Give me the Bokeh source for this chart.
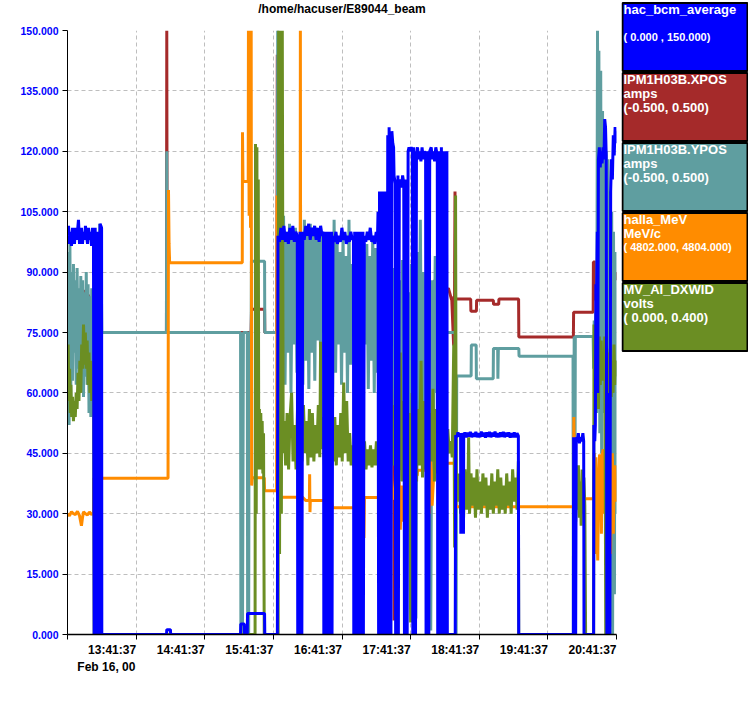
from bokeh.plotting import figure
from bokeh.models import Range1d, FixedTicker, LinearAxis, NumeralTickFormatter
from bokeh.layouts import row, column
from bokeh.embed import file_html
from bokeh.resources import INLINE
from bokeh.core.properties import value

# ---------------- data (time in minutes after 12:41:37, Feb 16; values on the 0-150 display scale) -------------
title_text = "/home/hacuser/E89044_beam"
x_tick_minutes = [60, 120, 180, 240, 300, 360, 420, 480]
x_tick_labels = ["13:41:37", "14:41:37", "15:41:37", "16:41:37", "17:41:37", "18:41:37", "19:41:37", "20:41:37"]
date_label = "Feb 16, 00"
y_ticks = [0, 15, 30, 45, 60, 75, 90, 105, 120, 135, 150]

series_names = ["hac_bcm_average", "IPM1H03B.XPOS", "IPM1H03B.YPOS", "halla_MeV", "MV_AI_DXWID"]
series_units = ["", "amps", "amps", "MeV/c", "volts"]
series_ranges = ["( 0.000  ,  150.000)", "(-0.500,  0.500)", "(-0.500,  0.500)",
                 "( 4802.000,  4804.000)", "( 0.000,  0.400)"]
series_colors = ["#0000ff", "#a52a2a", "#5f9ea0", "#ff8c00", "#6b8e23"]

bcm = [(0.0, 99), (0.9, 101.5), (1.7, 97), (2.6, 100), (3.5, 96.5), (4.4, 101), (5.2, 99), (6.1, 97), (7.0, 101),
       (7.9, 98), (8.7, 100), (9.6, 103), (10.5, 97), (11.4, 99), (12.2, 101), (13.1, 97), (14.0, 100), (14.9, 98),
       (15.7, 101.5), (16.6, 99), (17.5, 97), (18.4, 101), (19.2, 98), (20.1, 100), (21.0, 96.5), (21.9, 101),
       (22.7, 99), (23.3, 0), (24.2, 101), (25.0, 0), (25.9, 100), (26.3, 0), (28.2, 0), (28.5, 102), (29.8, 101),
       (30.0, 0), (86.6, 0), (86.8, 1.2), (90.0, 1.2), (90.2, 0), (151.3, 0), (151.5, 2.6), (154.6, 2.6), (154.8, 0),
       (157.2, 0), (157.4, 5.2), (172.3, 5.2), (172.5, 0), (183.5, 0), (184.0, 99),
       (185.3, 97.5), (186.6, 101), (187.9, 98), (189.2, 101.5), (190.5, 97.5), (191.8, 100), (193.1, 97),
       (194.4, 101), (195.7, 98), (197.0, 101.5), (198.3, 97.5), (199.6, 100), (200.9, 99),
       (201.3, 0), (202.1, 99), (202.5, 0), (203.3, 100), (203.7, 0), (204.5, 99), (204.9, 0), (205.7, 100),
       (207.0, 98), (208.3, 101.5), (209.6, 99), (210.9, 102), (212.2, 98), (213.5, 101), (214.8, 99), (216.1, 101.5),
       (217.4, 98), (218.7, 101), (220.0, 97.5), (221.3, 101.5), (222.6, 99), (223.8, 100),
       (224.1, 0), (224.9, 99), (225.3, 0), (226.1, 100), (226.5, 0), (227.3, 98), (227.7, 0), (228.5, 100),
       (228.9, 0), (229.7, 99), (230.1, 0), (230.9, 100), (231.3, 0), (232.1, 99),
       (233.4, 97.5), (234.7, 100), (236.0, 97), (237.3, 99), (238.6, 97.5), (239.9, 101), (241.2, 98), (242.5, 100),
       (243.8, 97), (245.1, 99), (246.4, 97.5), (247.7, 100), (249.0, 98), (250.0, 99),
       (250.3, 0), (251.1, 100), (251.5, 0), (252.3, 99), (252.7, 0), (253.5, 100), (253.9, 0), (254.7, 98),
       (255.1, 0), (255.9, 100), (256.3, 0), (257.1, 99), (257.5, 0), (258.3, 100), (258.7, 0), (259.5, 99),
       (260.8, 97.5), (262.1, 100), (263.4, 98), (264.7, 101), (266.0, 97.5), (267.3, 99), (268.6, 97), (269.9, 100),
       (271.0, 98),
       (271.5, 105), (272.0, 0), (272.8, 110), (273.2, 0), (274.0, 109), (274.4, 0), (275.2, 110), (275.6, 0),
       (276.4, 108), (276.8, 0), (277.6, 110), (278.0, 0), (278.8, 109), (279.3, 0), (280.0, 124), (280.4, 0),
       (281.2, 126), (281.6, 0), (282.4, 123), (282.8, 0), (283.6, 125), (284.4, 122), (285.1, 121), (285.5, 114),
       (286.5, 112), (286.9, 0), (287.7, 113), (288.1, 0), (288.9, 114), (289.3, 0), (290.1, 112), (291.0, 113),
       (292.0, 111), (293.0, 114), (294.0, 112), (294.6, 0), (295.4, 113), (295.8, 0), (296.6, 112), (297.0, 0),
       (297.8, 120), (298.6, 121), (299.5, 120), (300.5, 121), (301.5, 120), (301.9, 0), (302.7, 121), (303.1, 0),
       (303.9, 120), (304.3, 0), (305.1, 119), (306.0, 121), (307.0, 118), (308.0, 120), (309.0, 117.5),
       (310.0, 121), (311.0, 118), (312.0, 120), (313.1, 119), (313.5, 0), (314.3, 120), (314.7, 0), (315.5, 118),
       (315.9, 0), (316.7, 120), (318.0, 121), (319.0, 118), (320.0, 120), (321.0, 117.5), (322.0, 121),
       (323.3, 119), (323.7, 0), (324.5, 120), (324.9, 0), (325.7, 118), (326.1, 0), (326.9, 121), (327.3, 0),
       (328.1, 119), (328.5, 0), (329.3, 120), (329.7, 0), (330.5, 118), (330.9, 0), (331.7, 120), (332.1, 0),
       (339.0, 0), (339.4, 49.5), (340.4, 49.0), (341.4, 50.2), (342.4, 49.2), (343.4, 50.0), (343.7, 49.4),
       (343.9, 25), (344.1, 49.5), (345.0, 49.0), (346.0, 50.0), (346.2, 25), (346.4, 49.3), (347.4, 50.2),
       (348.6, 49.0), (349.8, 50.1), (351.0, 49.2), (352.2, 50.3), (353.4, 49.0), (354.6, 50.0), (355.8, 49.1),
       (357.0, 50.3), (358.2, 49.0), (359.4, 50.0), (360.6, 49.0), (361.8, 50.4), (363.0, 49.2), (364.2, 50.1),
       (365.4, 48.9), (366.6, 50.2), (367.8, 49.1), (369.0, 50.3), (370.2, 49.0), (371.4, 50.1), (372.6, 49.2),
       (373.8, 50.4), (375.0, 49.0), (376.2, 50.0), (377.4, 49.0), (378.6, 50.2), (379.8, 49.1), (381.0, 50.3),
       (382.2, 49.0), (383.4, 50.1), (384.6, 49.2), (385.8, 50.2), (387.0, 48.9), (388.2, 50.0), (389.4, 49.0),
       (390.6, 50.2), (391.8, 49.0), (393.0, 50.0), (394.2, 49.3), (394.5, 0), (442.3, 0),
       (442.5, 49), (443.0, 0), (443.6, 48), (444.3, 0), (444.8, 49), (445.6, 48), (446.6, 50), (447.6, 47.5),
       (448.6, 49), (449.6, 48), (450.6, 50), (451.3, 48), (451.6, 0), (460.0, 0), (460.2, 52), (461.0, 48),
       (461.5, 52), (462.0, 87), (462.6, 84), (463.2, 100), (463.6, 60), (464.2, 118), (465.0, 121), (465.8, 116),
       (466.6, 120), (467.4, 117), (468.2, 121), (469.0, 118), (469.7, 128), (470.4, 126), (471.0, 119),
       (471.6, 0), (472.4, 60), (473.0, 0), (474.2, 0), (474.9, 110), (475.6, 118), (476.4, 113), (477.2, 124),
       (478.0, 119), (478.8, 126), (479.5, 122), (480.2, 125)]

xpos = [(0.0, 81), (2.6, 82.6), (4.4, 82), (6.0, 80.5), (8.0, 81), (11.4, 80), (13.0, 79.8), (14.0, 85.5),
        (15.5, 84.3), (18.4, 84.3), (20.1, 80), (22.7, 79.9), (28.9, 80), (29.7, 75), (86.5, 75), (86.8, 150),
        (87.2, 75), (160.5, 75), (160.9, 80.8), (172.3, 80.8), (172.5, 75), (183.0, 75), (183.4, 144), (183.8, 91),
        (185.0, 84.8), (195.0, 84.8), (195.2, 82), (201.0, 82), (201.2, 86), (205.0, 86), (205.2, 80.5),
        (208.0, 80.5), (208.2, 84), (214.0, 84), (214.2, 86.8), (214.6, 78), (215.0, 82), (236.7, 82),
        (236.9, 81.5), (249.8, 81.5), (250.0, 82), (262.0, 82), (262.2, 84), (266.2, 84), (266.5, 88.8),
        (267.5, 78.8), (268.5, 88), (269.5, 80), (270.6, 84), (273.7, 84), (274.0, 93.7), (274.8, 79.8),
        (275.6, 90), (276.4, 82), (277.2, 86), (278.0, 79), (279.9, 85), (280.3, 106), (281.0, 84), (282.0, 80),
        (283.0, 86), (284.0, 79), (285.3, 84), (285.5, 3.5), (285.8, 82), (287.0, 86), (288.6, 80), (290.0, 85),
        (292.0, 81), (294.0, 87), (296.0, 79), (298.0, 84), (300.0, 82), (302.0, 86), (304.4, 80), (304.6, 67),
        (305.5, 83), (307.0, 81), (308.7, 86), (313.0, 86), (314.6, 70), (315.5, 87), (317.5, 81), (319.0, 85),
        (321.0, 88), (322.0, 80), (324.0, 86), (326.0, 83), (328.0, 87), (330.6, 85), (333.0, 86), (336.0, 83),
        (337.6, 71.8), (338.0, 84), (338.4, 84), (338.8, 110), (339.3, 83.3), (352.5, 83.3), (352.7, 80.3),
        (357.5, 80.3), (357.7, 83.0), (372.3, 83.0), (372.5, 82.0), (377.0, 82.0), (377.2, 83.3), (394.4, 83.3),
        (394.6, 73.9), (442.3, 73.9), (442.5, 80.0), (459.6, 80), (459.8, 92.5), (461.5, 92.5), (461.7, 83),
        (463.5, 84), (464.4, 85), (466.0, 84), (468.0, 84.5), (468.2, 89), (469.2, 89), (469.4, 84), (471.5, 84),
        (472.0, 96), (472.8, 60), (473.5, 95), (474.3, 45), (475.1, 93), (475.9, 70), (476.7, 97), (477.5, 85),
        (478.5, 90), (479.5, 88), (480.2, 90)]

ypos = [(0.0, 60), (0.7, 95), (1.4, 52), (2.1, 97), (2.8, 58), (3.6, 90), (4.4, 63), (5.2, 92), (6.0, 70),
        (6.8, 88), (7.6, 62), (8.4, 91), (9.2, 66), (10.0, 86), (10.8, 60), (11.6, 89), (12.4, 68), (13.2, 88),
        (14.0, 59), (14.8, 85), (15.6, 64), (16.4, 90), (17.2, 62), (18.0, 87), (18.8, 55), (19.6, 84), (20.4, 54),
        (21.2, 86), (22.0, 58), (22.8, 82), (23.6, 60), (24.6, 75), (26.0, 70), (28.2, 102), (28.8, 56),
        (29.5, 90), (30.0, 75), (86.5, 75), (86.8, 120), (87.2, 75), (151.3, 75), (151.6, 0), (152.6, 75),
        (153.0, 0), (153.8, 75), (157.2, 75), (157.5, 0), (158.4, 0), (158.8, 75), (160.6, 75), (160.8, 92.7),
        (172.3, 92.7), (172.5, 75), (183.4, 75), (183.8, 150), (184.3, 100), (185.0, 64),
        (186.3, 103), (187.6, 66), (188.9, 104), (190.2, 62), (191.5, 100), (192.8, 70), (194.1, 102), (195.4, 60),
        (196.7, 98), (198.0, 72), (199.3, 101), (200.6, 65), (201.9, 99), (203.2, 74), (204.5, 97), (205.8, 62),
        (207.1, 103), (208.4, 68), (209.7, 100), (211.0, 61), (212.3, 102), (213.6, 70), (214.9, 99), (216.2, 63),
        (217.5, 101), (218.8, 73), (220.1, 98), (221.4, 66), (222.7, 100), (224.0, 75), (225.3, 97), (226.6, 60),
        (227.9, 99), (229.2, 68), (230.5, 96), (231.8, 59), (233.1, 103), (234.4, 65), (235.7, 98), (237.0, 72),
        (238.3, 95), (239.6, 62), (240.9, 99), (242.2, 70), (243.5, 94), (244.8, 60), (246.1, 103), (247.4, 67),
        (248.7, 92), (250.0, 74), (251.3, 96), (252.6, 63), (253.9, 93), (255.2, 70), (256.5, 98), (257.8, 60),
        (259.1, 95), (260.4, 72), (261.7, 97), (263.0, 61), (264.3, 94), (265.6, 68), (266.9, 99), (268.2, 60),
        (269.5, 96), (270.8, 65), (272.1, 103), (273.4, 75), (274.7, 97), (276.0, 58), (277.3, 92), (278.6, 48),
        (279.9, 108), (281.2, 55), (282.5, 95), (283.8, 45), (285.1, 91), (286.4, 57), (287.7, 96), (289.0, 42),
        (290.3, 88), (291.6, 54), (292.9, 93), (294.2, 50), (295.5, 90), (296.8, 58), (298.1, 85), (299.4, 46),
        (300.7, 92), (302.0, 55), (303.3, 89), (304.6, 4), (305.9, 95), (307.2, 50), (308.5, 103), (309.8, 48),
        (311.1, 90), (312.4, 58), (313.7, 86), (315.0, 2), (316.3, 92), (317.6, 1), (318.9, 88), (320.2, 55),
        (321.5, 94), (322.8, 60), (324.1, 85), (325.4, 51), (326.7, 90), (328.0, 62), (329.3, 88), (330.6, 75),
        (339.0, 75), (339.3, 0), (339.8, 0), (340.3, 64.2), (352.9, 64.2), (353.1, 71.9), (357.3, 71.9),
        (357.5, 63.5), (372.2, 63.5), (372.4, 71.0), (376.1, 71.0), (376.3, 63.5), (376.7, 71.0), (394.6, 71.0),
        (394.8, 69.1), (442.0, 69.1), (442.3, 0), (443.0, 74), (443.4, 0), (444.0, 74), (459.6, 74),
        (460.0, 66), (460.5, 78), (461.0, 62), (461.8, 80), (462.6, 55), (463.4, 150), (464.0, 60), (464.6, 145),
        (465.4, 50), (466.2, 140), (467.0, 45), (467.8, 130), (468.6, 55), (469.4, 128), (470.2, 40), (471.0, 120),
        (471.8, 5), (472.6, 118), (473.4, 0), (474.2, 110), (475.0, 2), (475.8, 105), (476.6, 0), (477.4, 100),
        (478.2, 10), (479.0, 95), (479.8, 30), (480.2, 60)]

mev = [(0.0, 30), (1.7, 29.5), (3.5, 30.5), (5.2, 30), (7.0, 29.8), (8.7, 30.6), (10.5, 29.5), (12.2, 27),
       (13.1, 29), (14.0, 30.5), (15.7, 30), (17.5, 29.7), (19.2, 30.4), (21.0, 29.8), (22.7, 30.2), (23.0, 38.8),
       (87.9, 38.8), (88.3, 110.4), (88.8, 97), (89.3, 92.3), (152.8, 92.3), (153.0, 124.7), (153.4, 112.5),
       (158.0, 112.5), (158.2, 150), (158.8, 104), (159.4, 150), (160.0, 101), (160.6, 150), (161.0, 37),
       (161.5, 38.9), (172.0, 38.9), (172.3, 35.7), (182.8, 35.7), (183.2, 109), (183.6, 35), (184.5, 34.5),
       (186.3, 34.1), (203.3, 34.1), (203.6, 150), (204.0, 34.1), (205.5, 34.1), (208.2, 33.3), (211.5, 33.3),
       (211.7, 39.8), (212.0, 30.4), (212.3, 33.3), (230.0, 33.3), (230.3, 27.5), (230.8, 33), (231.8, 31.5),
       (250.1, 31.5), (258.9, 34), (259.2, 24), (259.6, 34), (272.0, 34), (275.2, 35), (275.6, 53), (276.6, 27.5),
       (277.6, 50), (279.5, 35), (282.5, 50), (283.5, 38), (285.1, 33.8), (289.5, 33.8), (290.0, 38), (291.0, 26),
       (292.0, 37), (293.0, 28), (293.9, 33.8), (298.5, 39.5), (305.8, 39.5), (306.0, 40.8), (314.6, 40.8),
       (315.2, 46.5), (316.4, 30), (317.6, 45), (318.8, 32), (320.4, 41), (324.7, 43.3), (332.1, 42.5),
       (339.3, 42.5), (339.6, 31.7), (442.5, 31.7), (442.7, 54), (443.5, 33.7), (460.0, 33.7), (460.5, 45),
       (461.2, 20), (462.0, 44), (462.8, 30), (463.6, 18.4), (464.4, 38), (465.2, 44.7), (466.0, 44), (466.8, 25),
       (467.6, 44.7), (468.4, 46), (469.2, 30), (470.0, 44), (470.8, 22), (471.6, 40), (472.4, 45), (473.2, 28),
       (474.0, 43), (474.8, 20), (475.6, 35), (476.4, 45), (477.2, 25), (478.0, 40), (478.8, 42), (479.6, 33),
       (480.2, 38)]

dxwid = [(0.0, 63), (0.6, 72), (1.2, 58), (1.8, 66), (2.4, 55), (3.0, 62), (3.6, 54), (4.4, 59), (5.2, 53),
         (6.0, 58), (6.8, 54), (7.6, 60), (8.4, 56), (9.2, 65), (10.0, 58), (10.8, 68), (11.6, 60), (12.4, 72),
         (13.2, 66), (14.0, 77), (14.8, 67), (15.6, 75), (16.4, 66), (17.2, 73), (18.0, 62), (18.8, 70), (19.6, 60),
         (20.4, 68), (21.2, 58), (22.0, 64), (22.8, 60), (23.3, 0), (26.2, 0), (26.6, 68), (27.4, 56), (28.2, 70),
         (29.0, 58), (29.7, 0), (164.0, 0), (164.4, 121.8), (165.0, 30), (165.6, 121), (166.2, 41), (166.8, 113),
         (167.2, 44), (167.8, 56), (168.4, 41), (169.0, 55), (169.6, 42), (170.2, 53), (170.8, 40), (171.4, 50),
         (172.0, 0), (184.2, 0), (184.6, 150), (185.4, 20), (186.2, 150), (187.0, 30), (187.8, 150), (188.6, 45),
         (189.4, 53), (190.7, 42), (192.0, 55), (193.3, 41), (194.6, 54), (195.9, 60), (197.2, 43), (198.5, 52),
         (199.8, 41), (201.1, 56), (202.4, 44), (203.7, 50), (205.0, 43), (206.3, 57), (207.6, 45), (208.9, 53),
         (210.2, 42), (211.5, 56), (212.8, 44), (214.1, 55), (215.4, 43), (216.7, 52), (218.0, 45), (219.3, 57),
         (220.6, 44), (221.3, 72.7), (222.0, 46), (223.3, 54), (224.6, 42), (225.9, 53), (227.2, 44), (228.5, 55),
         (229.8, 42), (231.1, 51), (232.4, 43), (233.7, 54), (235.0, 42), (236.3, 52), (237.6, 44), (238.9, 55),
         (240.2, 43), (241.5, 62.6), (242.8, 45), (244.1, 58), (245.4, 43), (246.7, 50), (248.0, 42), (249.3, 47),
         (250.6, 41.5), (251.9, 46), (253.2, 42), (254.5, 47), (255.8, 41), (257.1, 46), (258.4, 42), (259.7, 48),
         (261.0, 41), (262.3, 46), (263.6, 42), (264.9, 47), (266.2, 41.5), (267.5, 46), (268.8, 42), (270.1, 48),
         (271.4, 42), (272.7, 46), (274.0, 55), (275.3, 38), (276.6, 66), (277.9, 40), (279.2, 5), (280.5, 60),
         (281.8, 37), (283.1, 68), (284.4, 42), (285.7, 57), (287.0, 36), (288.3, 62), (289.6, 41), (290.9, 70),
         (292.2, 38), (293.5, 58), (294.8, 40), (296.1, 65), (297.4, 37), (298.7, 55), (300.0, 3), (301.3, 60),
         (302.6, 40), (303.9, 66), (305.2, 38), (306.5, 56), (307.8, 42), (309.1, 68), (310.4, 39), (311.7, 58),
         (313.0, 41), (314.3, 64), (315.6, 37), (316.9, 55), (318.2, 43), (319.5, 61), (320.8, 38), (322.1, 56),
         (323.4, 40), (324.7, 59), (326.0, 42), (327.3, 52), (328.6, 44), (329.9, 55), (331.2, 42), (332.5, 51),
         (333.8, 45), (335.1, 48), (336.4, 44), (337.7, 72), (338.5, 21.6), (339.3, 109), (339.8, 40),
         (341.1, 33), (342.4, 40), (343.7, 30), (345.0, 38), (346.3, 29), (347.6, 41), (348.9, 31), (350.2, 37),
         (350.7, 49), (351.5, 30), (352.8, 40), (354.1, 32), (355.4, 39), (356.7, 29), (358.0, 41), (359.3, 31),
         (360.6, 38), (361.9, 30), (363.2, 40), (364.5, 32), (365.8, 39), (367.1, 29), (368.4, 37), (369.7, 31),
         (371.0, 40), (372.3, 30), (373.6, 38), (374.9, 32), (376.2, 41), (377.5, 30), (378.8, 39), (380.1, 31),
         (381.4, 37), (382.7, 30), (384.0, 40), (385.3, 32), (386.6, 38), (387.9, 30), (389.2, 41), (390.5, 33),
         (391.8, 39), (393.1, 31), (394.2, 43), (394.5, 0), (442.4, 0), (442.8, 30), (443.5, 43), (444.3, 28),
         (445.1, 40), (445.9, 31), (446.7, 42), (447.5, 29), (448.3, 38), (449.1, 27), (449.9, 41), (450.7, 30),
         (451.5, 39), (452.3, 32), (453.0, 0), (460.0, 0), (460.3, 77), (461.0, 55), (461.8, 75), (462.6, 58),
         (463.4, 72), (464.2, 56), (465.0, 74), (465.8, 62), (466.6, 73), (467.4, 63), (468.2, 70), (469.0, 64),
         (469.8, 74), (470.6, 0), (471.4, 71), (472.2, 58), (473.0, 70), (473.8, 60), (474.6, 71), (475.4, 59),
         (476.2, 68), (477.0, 60), (477.8, 72), (478.6, 62), (479.4, 68), (480.2, 64)]

FONT = "Liberation Sans"
X0, X1, Y0, Y1 = 0, 480, 0, 150
PW, TH, PH = 621, 24, 676          # main column width, title strip height, plot height

# ---------------- title strip (same horizontal frame as the plot, so the title is centred over it) -------------
tfig = figure(width=PW, height=TH, x_range=Range1d(X0, X1), y_range=Range1d(TH, 0),
              output_backend="svg", toolbar_location=None, x_axis_type=None, y_axis_type=None,
              min_border_left=67, min_border_right=5, min_border_top=0, min_border_bottom=0)
tfig.frame_align = False
tfig.outline_line_color = None
tfig.background_fill_color = "white"
tfig.border_fill_color = "white"
tfig.text(x=[(X0 + X1) / 2], y=[8], text=[title_text], text_font=value(FONT), text_font_style="bold",
          text_font_size="12px", text_color="black", text_align="center", text_baseline="middle")

# ---------------- main plot -------------
p = figure(width=PW, height=PH, x_range=Range1d(X0, X1), y_range=Range1d(Y0, Y1),
           output_backend="svg", toolbar_location=None,
           min_border_left=67, min_border_right=5, min_border_top=6, min_border_bottom=66)
p.frame_align = False
p.outline_line_color = None
p.background_fill_color = "white"
p.border_fill_color = "white"

grid_minutes = [0] + x_tick_minutes
p.xgrid.ticker = FixedTicker(ticks=grid_minutes)
p.ygrid.ticker = FixedTicker(ticks=y_ticks)
for g in (p.xgrid, p.ygrid):
    g.grid_line_color = "#bebebe"
    g.grid_line_dash = "4 3"
    g.grid_line_width = 1

# y axis
ya = p.yaxis[0]
ya.ticker = FixedTicker(ticks=y_ticks)
ya.formatter = NumeralTickFormatter(format="0.000")
ya.major_label_text_color = "#0000ff"
ya.major_label_text_font = FONT
ya.major_label_text_font_style = "bold"
ya.major_label_text_font_size = "10.5px"
ya.major_tick_out = 5
ya.major_tick_in = 0
ya.minor_tick_line_color = None
ya.major_label_standoff = 4
ya.axis_line_color = "black"
ya.major_tick_line_color = "black"

# x axis: labels right-aligned to the hour ticks (ticks drawn as minor ticks at the hours)
label_shift = 21
lab_ticks = [m - label_shift for m in x_tick_minutes]
xa = p.xaxis[0]
xa.ticker = FixedTicker(ticks=lab_ticks, minor_ticks=grid_minutes)
xa.major_label_overrides = {t: s for t, s in zip(lab_ticks, x_tick_labels)}
xa.major_tick_line_color = None
xa.major_tick_out = 0
xa.major_tick_in = 0
xa.minor_tick_line_color = "black"
xa.minor_tick_out = 5
xa.minor_tick_in = 0
xa.major_label_standoff = 3
xa.major_label_text_font = FONT
xa.major_label_text_font_style = "bold"
xa.major_label_text_font_size = "12px"
xa.major_label_text_color = "black"
xa.axis_line_color = "black"
xa.axis_line_width = 1.5

date_tick = x_tick_minutes[0] - 26
date_axis = LinearAxis(ticker=FixedTicker(ticks=[date_tick]),
                       major_label_overrides={date_tick: date_label},
                       axis_line_color=None, major_tick_line_color=None, minor_tick_line_color=None,
                       major_tick_out=0, major_tick_in=0, major_label_standoff=0,
                       major_label_text_font=FONT, major_label_text_font_style="bold",
                       major_label_text_font_size="12px", major_label_text_color="black")
p.add_layout(date_axis, "below")

# traces (drawing order: XPOS, YPOS, MeV, DXWID, BCM on top)
traces = [(xpos, series_colors[1]), (ypos, series_colors[2]), (mev, series_colors[3]),
          (dxwid, series_colors[4]), (bcm, series_colors[0])]
for data, col in traces:
    ts = [d[0] for d in data]
    vs = [d[1] for d in data]
    p.line(ts, vs, line_color=col, line_width=3)

# ---------------- legend panel -------------
LW, LH = 127, TH + PH
leg = figure(width=LW, height=LH, x_range=Range1d(0, LW), y_range=Range1d(LH, 0),
             output_backend="svg", toolbar_location=None, min_border=0,
             x_axis_type=None, y_axis_type=None)
leg.frame_align = False
leg.outline_line_color = None
leg.background_fill_color = "white"
leg.border_fill_color = "white"
n = len(series_names)
tops = [2.5 + 70 * i for i in range(n)]
leg.quad(left=[1] * n, right=[126] * n, top=tops, bottom=[t + 68 for t in tops],
         fill_color=series_colors, line_color="black", line_width=2)
big_x, big_y, big_t, small_x, small_y, small_t = [], [], [], [], [], []
for i in range(n):
    for k, s in enumerate([series_names[i], series_units[i], series_ranges[i]]):
        if not s:
            continue
        if k == 2 and len(s) > 18:
            small_x.append(2); small_y.append(tops[i] + 6 + 14 * k); small_t.append(s)
        else:
            big_x.append(2); big_y.append(tops[i] + 6 + 14 * k); big_t.append(s)
leg.text(x=big_x, y=big_y, text=big_t, text_font_size="13px", text_color="white",
         text_font=value(FONT), text_font_style="bold", text_baseline="middle", text_align="left")
leg.text(x=small_x, y=small_y, text=small_t, text_font_size="11px", text_color="white",
         text_font=value(FONT), text_font_style="bold", text_baseline="middle", text_align="left")

layout = row(column(tfig, p), leg)
open("out.html", "w").write(file_html(layout, INLINE))
